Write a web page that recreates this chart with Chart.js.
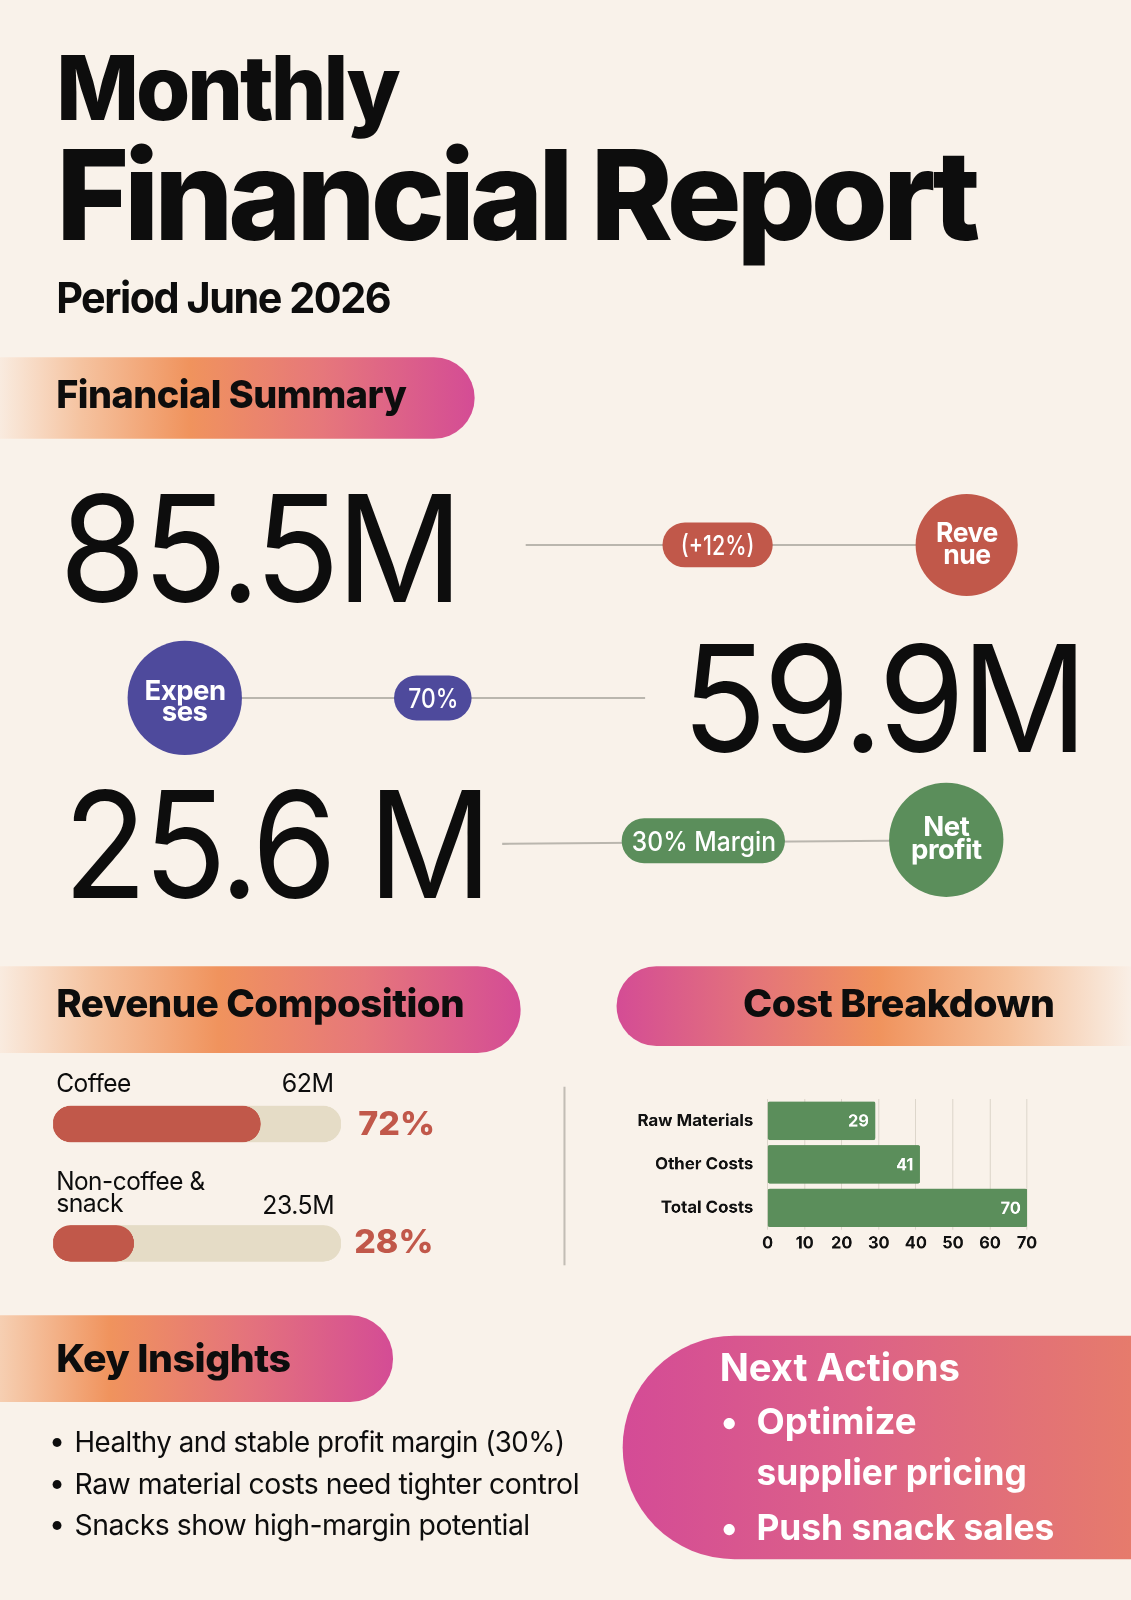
<!DOCTYPE html>
<html>
<head>
<meta charset="utf-8">
<script src="https://cdn.jsdelivr.net/npm/chart.js@4.4.1/dist/chart.umd.min.js"></script>
<style>
html,body{margin:0;padding:0;background:#f9f2ea;}
body{width:1131px;height:1600px;overflow:hidden;position:relative;}
#page{position:absolute;left:0;top:0;width:1108px;height:1568px;transform:scale(1.02076,1.02041);transform-origin:0 0;font-family:Inter,"Liberation Sans",sans-serif;color:#0d0d0d;}
.t{position:absolute;white-space:nowrap;line-height:0.75;transform-origin:0 0;}
.s{position:absolute;}
.hd{font-weight:800;font-size:38px;letter-spacing:-0.5px;}
.big{font-weight:400;font-size:145px;letter-spacing:-4px;}
.pl{font-weight:500;font-size:26px;color:#fff;}
.cc{font-weight:700;font-size:27px;color:#fff;letter-spacing:-0.5px;}
.rv{font-weight:400;font-size:25px;letter-spacing:-0.5px;}
.pc{font-weight:800;font-size:32px;color:#c1584a;}
.ins{font-weight:400;font-size:28px;letter-spacing:-0.5px;}
.na{font-weight:700;font-size:35px;color:#fff;}
</style>
</head>
<body>
<div id="page">
  <!-- connector lines -->
  <svg class="s" style="left:0;top:0" width="1108" height="1568">
    <line x1="515" y1="534" x2="900" y2="534" stroke="#bab6ae" stroke-width="2"/>
    <line x1="236" y1="684" x2="632" y2="684" stroke="#bab6ae" stroke-width="2"/>
    <line x1="492" y1="827" x2="872" y2="824" stroke="#bab6ae" stroke-width="2"/>
    <line x1="553" y1="1065" x2="553" y2="1240" stroke="#c2bdb5" stroke-width="2"/>
  </svg>

  <!-- section pills -->
  <div class="s" style="left:0;top:350px;width:465px;height:80px;border-radius:0 40px 40px 0;background:linear-gradient(90deg,#f9ebdf 0%,#f5c3a0 17%,#f0935d 40%,#e6777b 68%,#d44c95 100%);"></div>
  <div class="s" style="left:0;top:947px;width:510px;height:85px;border-radius:0 42px 42px 0;background:linear-gradient(90deg,#f9ebdf 0%,#f5c3a0 18%,#f0935d 42%,#e6777b 70%,#d44c95 100%);"></div>
  <div class="s" style="left:604px;top:947px;width:504px;height:78px;border-radius:39px 0 0 39px;background:linear-gradient(90deg,#d44c95 0%,#e4747a 27%,#f0935d 51%,#f5bf98 76%,#f9efe6 100%);"></div>
  <div class="s" style="left:0;top:1289px;width:385px;height:85px;border-radius:0 42px 42px 0;background:linear-gradient(90deg,#f6cfb2 0%,#f0935d 28%,#e4737c 63%,#d44c95 100%);"></div>
  <div class="s" style="left:610px;top:1309px;width:498px;height:219px;border-radius:110px 0 0 110px;background:linear-gradient(90deg,#d44b96 0%,#dc6188 45%,#e67b6c 100%);"></div>

  <!-- summary pills and circles -->
  <div class="s" style="left:649px;top:512px;width:108px;height:44px;border-radius:22px;background:#c1584a;"></div>
  <div class="s" style="left:897px;top:484px;width:100px;height:100px;border-radius:50%;background:#c1584a;"></div>
  <div class="s" style="left:386px;top:662px;width:76px;height:44px;border-radius:22px;background:#4e4a9c;"></div>
  <div class="s" style="left:125px;top:628px;width:112px;height:112px;border-radius:50%;background:#4e4a9c;"></div>
  <div class="s" style="left:609px;top:802px;width:160px;height:44px;border-radius:22px;background:#5b8e5b;"></div>
  <div class="s" style="left:871px;top:767px;width:112px;height:112px;border-radius:50%;background:#5b8e5b;"></div>

  <!-- charts -->
  <div class="s" style="left:52px;top:1043px;width:282px;height:234px;"><canvas id="revChart"></canvas></div>
  <div class="s" style="left:596px;top:1053px;width:424px;height:179px;"><canvas id="costChart"></canvas></div>

  <!-- title -->
  <div class="t" data-x="55" data-b="118" data-w="335" style="font-weight:800;font-size:88px;letter-spacing:-3px;">Monthly</div>
  <div class="t" data-x="55" data-b="235" data-w="900" style="font-weight:800;font-size:122px;letter-spacing:-5px;">Financial Report</div>
  <div class="t" data-x="55" data-b="307" data-w="327" style="font-weight:700;font-size:42px;letter-spacing:-1.5px;">Period June 2026</div>

  <div class="t hd" data-x="55" data-b="400" data-w="343">Financial Summary</div>

  <div class="t big" data-x="58" data-b="590" data-w="392">85.5M</div>
  <div class="t big" data-x="668" data-b="737" data-w="394">59.9M</div>
  <div class="t big" data-x="62" data-b="880" data-w="416">25.6 M</div>

  <div class="t pl" data-cx="703" data-b="544" data-w="72">(+12%)</div>
  <div class="t pl" data-cx="424" data-b="694" data-w="49">70%</div>
  <div class="t pl" data-cx="689" data-b="834" data-w="141">30% Margin</div>

  <div class="t cc" data-cx="947" data-b="531" style="font-size:26px">Reve</div>
  <div class="t cc" data-cx="947" data-b="553" style="font-size:26px">nue</div>
  <div class="t cc" data-cx="181" data-b="686">Expen</div>
  <div class="t cc" data-cx="181" data-b="707">ses</div>
  <div class="t cc" data-cx="927" data-b="819">Net</div>
  <div class="t cc" data-cx="927" data-b="842">profit</div>

  <div class="t hd" data-x="55" data-b="997" data-w="400">Revenue Composition</div>
  <div class="t hd" data-x="728" data-b="997" data-w="305">Cost Breakdown</div>
  <div class="t hd" data-x="55" data-b="1345" data-w="230">Key Insights</div>

  <div class="t rv" id="rl0" data-x="55" data-b="1070" data-w="73"></div>
  <div class="t rv" id="ra0" data-r="327" data-b="1070" data-w="51"></div>
  <div class="t rv" data-x="55" data-b="1166" data-w="145">Non-coffee &amp;</div>
  <div class="t rv" data-x="55" data-b="1188" data-w="66">snack</div>
  <div class="t rv" id="ra1" data-r="327" data-b="1190" data-w="70"></div>
  <div class="t pc" id="rp0" data-x="351" data-b="1112" data-w="75"></div>
  <div class="t pc" id="rp1" data-x="347" data-b="1228" data-w="78"></div>

  <div class="t ins" data-x="48" data-b="1422">•</div>
  <div class="t ins" data-x="73" data-b="1423" data-w="480">Healthy and stable profit margin (30%)</div>
  <div class="t ins" data-x="48" data-b="1463">•</div>
  <div class="t ins" data-x="73" data-b="1464" data-w="494">Raw material costs need tighter control</div>
  <div class="t ins" data-x="48" data-b="1503">•</div>
  <div class="t ins" data-x="73" data-b="1504" data-w="446">Snacks show high-margin potential</div>

  <div class="t na" data-x="705" data-b="1353" data-w="235" style="font-size:37px">Next Actions</div>
  <div class="t na" data-x="706" data-b="1405">•</div>
  <div class="t na" data-x="741" data-b="1405" data-w="157">Optimize</div>
  <div class="t na" data-x="741" data-b="1455" data-w="265">supplier pricing</div>
  <div class="t na" data-x="706" data-b="1509">•</div>
  <div class="t na" data-x="741" data-b="1509" data-w="292">Push snack sales</div>
</div>

<script>
// ---- data ----
const revenueCategories = ['Coffee', 'Non-coffee & snack'];
const revenueAmounts = ['62M', '23.5M'];
const revenueShares = [72, 28];
const revenueTrack = [100, 100];

const costCategories = ['Raw Materials', 'Other Costs', 'Total Costs'];
const costValues = [29, 41, 70];
const costTicks = [0, 10, 20, 30, 40, 50, 60, 70];

// ---- fill labels from data ----
document.getElementById('rl0').textContent = revenueCategories[0];
document.getElementById('ra0').textContent = revenueAmounts[0];
document.getElementById('ra1').textContent = revenueAmounts[1];
document.getElementById('rp0').textContent = revenueShares[0] + '%';
document.getElementById('rp1').textContent = revenueShares[1] + '%';

// ---- text placement (baseline based) ----
function layout() {
  document.querySelectorAll('.t').forEach(el => {
    el.style.transform = 'none';
    let mk = el.querySelector('.bm');
    if (!mk) {
      mk = document.createElement('span');
      mk.className = 'bm';
      mk.style.cssText = 'display:inline-block;width:0;height:0;vertical-align:baseline;';
      el.appendChild(mk);
    }
    const nat = el.offsetWidth;
    const base = mk.offsetTop;
    const d = el.dataset;
    const w = d.w ? +d.w : nat;
    const s = w / nat;
    let x;
    if (d.x != null) x = +d.x;
    else if (d.r != null) x = +d.r - w;
    else x = +d.cx - w / 2;
    el.style.left = x + 'px';
    el.style.top = (+d.b - base) + 'px';
    el.style.transform = 'scaleX(' + s + ')';
  });
}
layout();
if (document.fonts && document.fonts.ready) document.fonts.ready.then(layout);

// ---- revenue composition bars ----
new Chart(document.getElementById('revChart'), {
  type: 'bar',
  data: {
    labels: revenueCategories,
    datasets: [
      { data: revenueShares, backgroundColor: '#c1584a', barThickness: 35, borderRadius: 18, borderSkipped: false, grouped: false, order: 0 },
      { data: revenueTrack, backgroundColor: '#e5dcc6', barThickness: 35, borderRadius: 18, borderSkipped: false, grouped: false, order: 1 }
    ]
  },
  options: {
    indexAxis: 'y',
    responsive: true,
    maintainAspectRatio: false,
    animation: false,
    devicePixelRatio: 2,
    layout: { padding: 0 },
    plugins: { legend: { display: false }, tooltip: { enabled: false } },
    scales: {
      x: { display: false, min: 0, max: 100 },
      y: { display: false }
    }
  }
});

// ---- cost breakdown ----
const valueLabels = {
  id: 'valueLabels',
  afterDatasetsDraw(chart) {
    const ctx = chart.ctx;
    const meta = chart.getDatasetMeta(0);
    ctx.save();
    ctx.fillStyle = '#ffffff';
    ctx.font = '700 16px Inter, sans-serif';
    ctx.textAlign = 'right';
    ctx.textBaseline = 'middle';
    meta.data.forEach((bar, i) => {
      ctx.fillText(String(costValues[i]), bar.x - 6, bar.y + 1);
    });
    ctx.restore();
  }
};

new Chart(document.getElementById('costChart'), {
  type: 'bar',
  data: {
    labels: costCategories,
    datasets: [{ data: costValues, backgroundColor: '#5b8e5b', barThickness: 37, borderRadius: 2, borderSkipped: false }]
  },
  options: {
    indexAxis: 'y',
    responsive: true,
    maintainAspectRatio: false,
    animation: false,
    devicePixelRatio: 2,
    layout: { padding: { top: 24, right: 13, left: 0, bottom: 0 } },
    plugins: { legend: { display: false }, tooltip: { enabled: false } },
    scales: {
      x: {
        min: costTicks[0], max: costTicks[costTicks.length - 1],
        afterBuildTicks(axis) { axis.ticks = costTicks.map(v => ({ value: v })); },
        ticks: { color: '#111', font: { family: 'Inter', weight: '700', size: 16 }, padding: 4, maxRotation: 0 },
        grid: { color: '#ddd6cb', drawTicks: false },
        border: { display: false },
        afterFit(a) { a.height = 27; }
      },
      y: {
        ticks: { color: '#111', font: { family: 'Inter', weight: '700', size: 16.5 }, padding: 6 },
        grid: { display: false },
        border: { display: false },
        afterFit(a) { a.width = 156; }
      }
    }
  },
  plugins: [valueLabels]
});
</script>
</body>
</html>
